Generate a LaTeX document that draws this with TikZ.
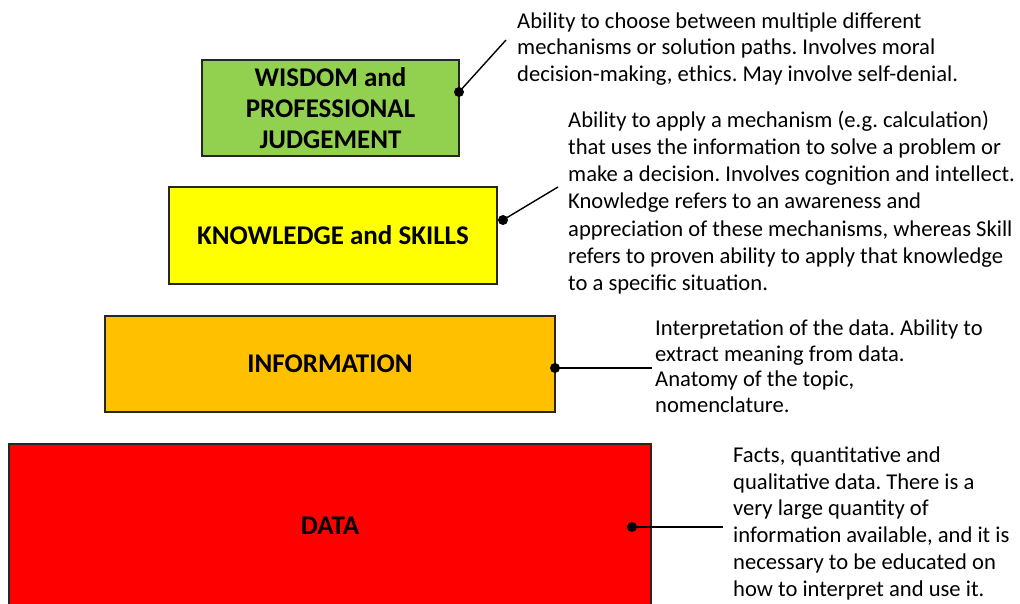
\documentclass[tikz,border=0pt]{standalone}
\usepackage{fontspec}
\setmainfont{Carlito}
\frenchspacing
\definecolor{wisdomgreen}{HTML}{92D050}
\definecolor{skillyellow}{HTML}{FFFF00}
\definecolor{infoorange}{HTML}{FFC000}
\definecolor{datared}{HTML}{FF0000}
\newcommand\descstrut{\rule{0pt}{21pt}}
\tikzset{
  tier/.style={draw=black!85, line width=1.4pt, inner sep=0pt,
    font=\fontsize{27}{31}\selectfont\bfseries, align=center},
  desc/.style={anchor=north west, inner sep=0pt, align=left,
    font=\fontsize{22.6}{26.8}\selectfont\frenchspacing},
  link/.style={line width=1.4pt, black},
  pin/.style={fill=black}
}
\begin{document}
\begin{tikzpicture}[x=1pt, y=-1pt]
\useasboundingbox[fill=white] (0,0) rectangle (1020,604);

% the four tiers of the pyramid
\node[tier, fill=wisdomgreen, minimum width=257pt, minimum height=96pt]
  (wis) at (330.5,108) {WISDOM and\\PROFESSIONAL\\JUDGEMENT};
\node[tier, fill=skillyellow, minimum width=328pt, minimum height=97pt]
  (ks) at (333,235.5) {KNOWLEDGE and SKILLS};
\node[tier, fill=infoorange, minimum width=450pt, minimum height=96pt]
  (info) at (330,364) {INFORMATION};
\node[tier, fill=datared, minimum width=642pt, minimum height=164pt]
  (data) at (330,526) {DATA};

% descriptions
\node[desc] (wisT) at (517,7) {\descstrut Ability to choose between multiple different\\
  mechanisms or solution paths. Involves moral\\
  decision-making, ethics. May involve self-denial.};
\node[desc, font=\fontsize{22.6}{27.2}\selectfont\frenchspacing] (ksT) at (568,106) {\descstrut Ability to apply a mechanism (e.g. calculation)\\
  that uses the information to solve a problem or\\
  make a decision. Involves cognition and intellect.\\
  Knowledge refers to an awareness and\\
  appreciation of these mechanisms, whereas Skill\\
  refers to proven ability to apply that knowledge\\
  to a specific situation.};
\node[desc, font=\fontsize{22.6}{25.8}\selectfont\frenchspacing] (infoT) at (655,314) {\descstrut Interpretation of the data. Ability to\\
  extract meaning from data.\\
  Anatomy of the topic,\\
  nomenclature.};
\node[desc] (dataT) at (733,441) {\descstrut Facts, quantitative and\\
  qualitative data. There is a\\
  very large quantity of\\
  information available, and it is\\
  necessary to be educated on\\
  how to interpret and use it.};

% connector end points
\coordinate (wisP) at (459,92);
\coordinate (wisQ) at (506,40);
\coordinate (ksP) at (503,220);
\coordinate (ksQ) at (558,187);
\coordinate (infoP) at (555,368);
\coordinate (infoQ) at (652,368);
\coordinate (dataP) at (632,527);
\coordinate (dataQ) at (723,527);

% connectors with a dot on the tier side
\foreach \t in {wis,ks,info,data}{
  \draw[link] (\t P) -- (\t Q);
  \fill[pin] (\t P) circle (5pt);
}
\end{tikzpicture}
\end{document}
